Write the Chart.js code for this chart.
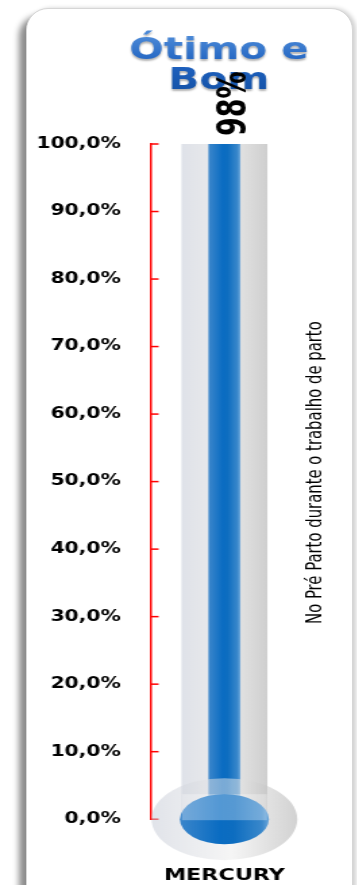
<!DOCTYPE html>
<html>
<head>
<meta charset="utf-8">
<script src="https://cdn.jsdelivr.net/npm/chart.js@4.4.0/dist/chart.umd.min.js"></script>
<style>
  body { margin: 0; background: #fff; width: 357px; height: 885px; overflow: hidden; }
  .card {
    position: absolute; left: 26px; top: 8px; width: 325px; height: 920px;
    background: #fff; border: 1px solid #d6d6d6; border-radius: 22px;
    box-shadow: -9px 6px 6px -2px rgba(0,0,0,0.45), 3px 0 4px rgba(0,0,0,0.18);
  }
  #thermo { position: absolute; left: 0; top: 0; transform-origin: 0 0; transform: scaleX(1.35); }
</style>
</head>
<body>
<div class="card"><canvas id="thermo" width="242" height="877"></canvas></div>
<script>
const chartTitle = ["Ótimo e", "Bom"];
const categories = ["MERCURY"];
const mercuryValues = [98];
const tubeValues = [100];
const yTicks = [0, 10, 20, 30, 40, 50, 60, 70, 80, 90, 100];
const sideLabel = "No Pré Parto durante o trabalho de parto";

const TUBE_W = 63;
const BAR_W = 23;

function hGradient(ctx, x, w, stops) {
  const g = ctx.createLinearGradient(x - w / 2, 0, x + w / 2, 0);
  stops.forEach((s) => g.addColorStop(s[0], s[1]));
  return g;
}

const blueStops = [[0, "#3b86cb"], [0.45, "#0a6cc2"], [0.6, "#0d6dc0"], [0.92, "#3a88cb"], [1, "#6aa6da"]];
const tubeStops = [[0, "#dfe2e9"], [0.5, "#ececec"], [1, "#cfcfcf"]];

function barFill(stops, w) {
  return (c) => {
    const chart = c.chart;
    if (!chart.chartArea) return stops[1][1];
    const x = chart.scales.x.getPixelForValue(0);
    return hGradient(chart.ctx, x, w, stops);
  };
}

const thermoDecor = {
  id: "thermoDecor",
  beforeDatasetsDraw(chart) {
    // short red ticks pointing into the plot
    const ctx = chart.ctx;
    const y = chart.scales.y;
    ctx.save();
    ctx.strokeStyle = "#ff0000";
    ctx.lineWidth = 1.5;
    yTicks.forEach((v) => {
      const py = y.getPixelForValue(v);
      ctx.beginPath();
      ctx.moveTo(chart.chartArea.left, py);
      ctx.lineTo(chart.chartArea.left + 6, py);
      ctx.stroke();
    });
    ctx.restore();
  },
  afterDatasetsDraw(chart) {
    const ctx = chart.ctx;
    const x = chart.scales.x.getPixelForValue(0);
    const y = chart.scales.y.getPixelForValue(0);
    ctx.save();
    // bulb
    ctx.fillStyle = hGradient(ctx, x, 108, [[0, "rgba(195,200,212,0.5)"], [0.55, "rgba(236,236,236,0.5)"], [1, "rgba(165,165,165,0.5)"]]);
    ctx.beginPath();
    ctx.ellipse(x, y, 54, 41, 0, 0, Math.PI * 2);
    ctx.fill();
    ctx.fillStyle = hGradient(ctx, x, 66, blueStops);
    ctx.beginPath();
    ctx.ellipse(x, y, 33, 25, 0, 0, Math.PI * 2);
    ctx.fill();
    ctx.fillStyle = "rgba(255,255,255,0.3)";
    ctx.fillRect(x - TUBE_W / 2, y - 25, TUBE_W, 26);
    ctx.restore();
  },
  afterDraw(chart) {
    const ctx = chart.ctx;
    const area = chart.chartArea;
    const cx = (area.left + area.right) / 2;
    const x = chart.scales.x.getPixelForValue(0);
    ctx.save();
    // title
    ctx.font = 'bold 30px "DejaVu Sans", Verdana, sans-serif';
    ctx.textAlign = "center";
    ctx.textBaseline = "alphabetic";
    const tg = ctx.createLinearGradient(0, 28, 0, 82);
    tg.addColorStop(0, "#4a88d6");
    tg.addColorStop(0.5, "#1f62c0");
    tg.addColorStop(1, "#1553a8");
    ctx.fillStyle = tg;
    ctx.shadowColor = "rgba(0,0,0,0.3)";
    ctx.shadowOffsetY = 2;
    ctx.shadowBlur = 2;
    chartTitle.forEach((line, i) => ctx.fillText(line, cx - 4, 50 + i * 30));
    ctx.shadowColor = "transparent";
    // value label above the column
    ctx.fillStyle = "#000";
    ctx.font = 'bold 30px "Liberation Sans Narrow", "DejaVu Sans Condensed", sans-serif';
    ctx.textAlign = "left";
    ctx.translate(x + 16, area.top - 8);
    ctx.rotate(-Math.PI / 2);
    ctx.fillText(mercuryValues[0] + "%", 0, 0);
    ctx.restore();
    // side caption
    ctx.save();
    ctx.fillStyle = "#000";
    ctx.font = '16.5px "Liberation Sans Narrow", "DejaVu Sans Condensed", sans-serif';
    ctx.textAlign = "center";
    ctx.translate(area.right + 17, (area.top + area.bottom) / 2 - 9);
    ctx.rotate(-Math.PI / 2);
    ctx.fillText(sideLabel, 0, 0);
    ctx.restore();
  },
};

new Chart(document.getElementById("thermo"), {
  type: "bar",
  data: {
    labels: categories,
    datasets: [
      {
        label: "Mercury",
        data: mercuryValues,
        yAxisID: "y2",
        barThickness: BAR_W,
        backgroundColor: barFill(blueStops, BAR_W),
        grouped: false,
        order: 1,
      },
      {
        label: "Tube",
        data: tubeValues,
        yAxisID: "y",
        barThickness: TUBE_W,
        backgroundColor: barFill(tubeStops, TUBE_W),
        grouped: false,
        order: 2,
      },
    ],
  },
  plugins: [thermoDecor],
  options: {
    responsive: false,
    animation: false,
    layout: { padding: { top: 135, left: -15, right: 41, bottom: 0 } },
    plugins: { legend: { display: false }, tooltip: { enabled: false } },
    scales: {
      x: {
        grid: { display: true, color: "transparent", drawOnChartArea: false, drawTicks: true, tickLength: 47 },
        border: { display: false },
        ticks: { color: "#000", padding: 0, font: { family: "DejaVu Sans", weight: "bold", size: 16.5 } },
      },
      y: {
        min: 0,
        max: 100,
        afterBuildTicks: (s) => { s.ticks = yTicks.map((v) => ({ value: v })); },
        grid: { display: false, drawTicks: false },
        border: { display: true, color: "#ff0000", width: 1.5 },
        ticks: {
          color: "#000",
          padding: 22,
          font: { family: "DejaVu Sans", weight: "bold", size: 15 },
          callback: (v) => v.toFixed(1).replace(".", ",") + "%",
        },
      },
      y2: { display: false, min: 0, max: Math.max(...mercuryValues) },
    },
  },
});
</script>
</body>
</html>
